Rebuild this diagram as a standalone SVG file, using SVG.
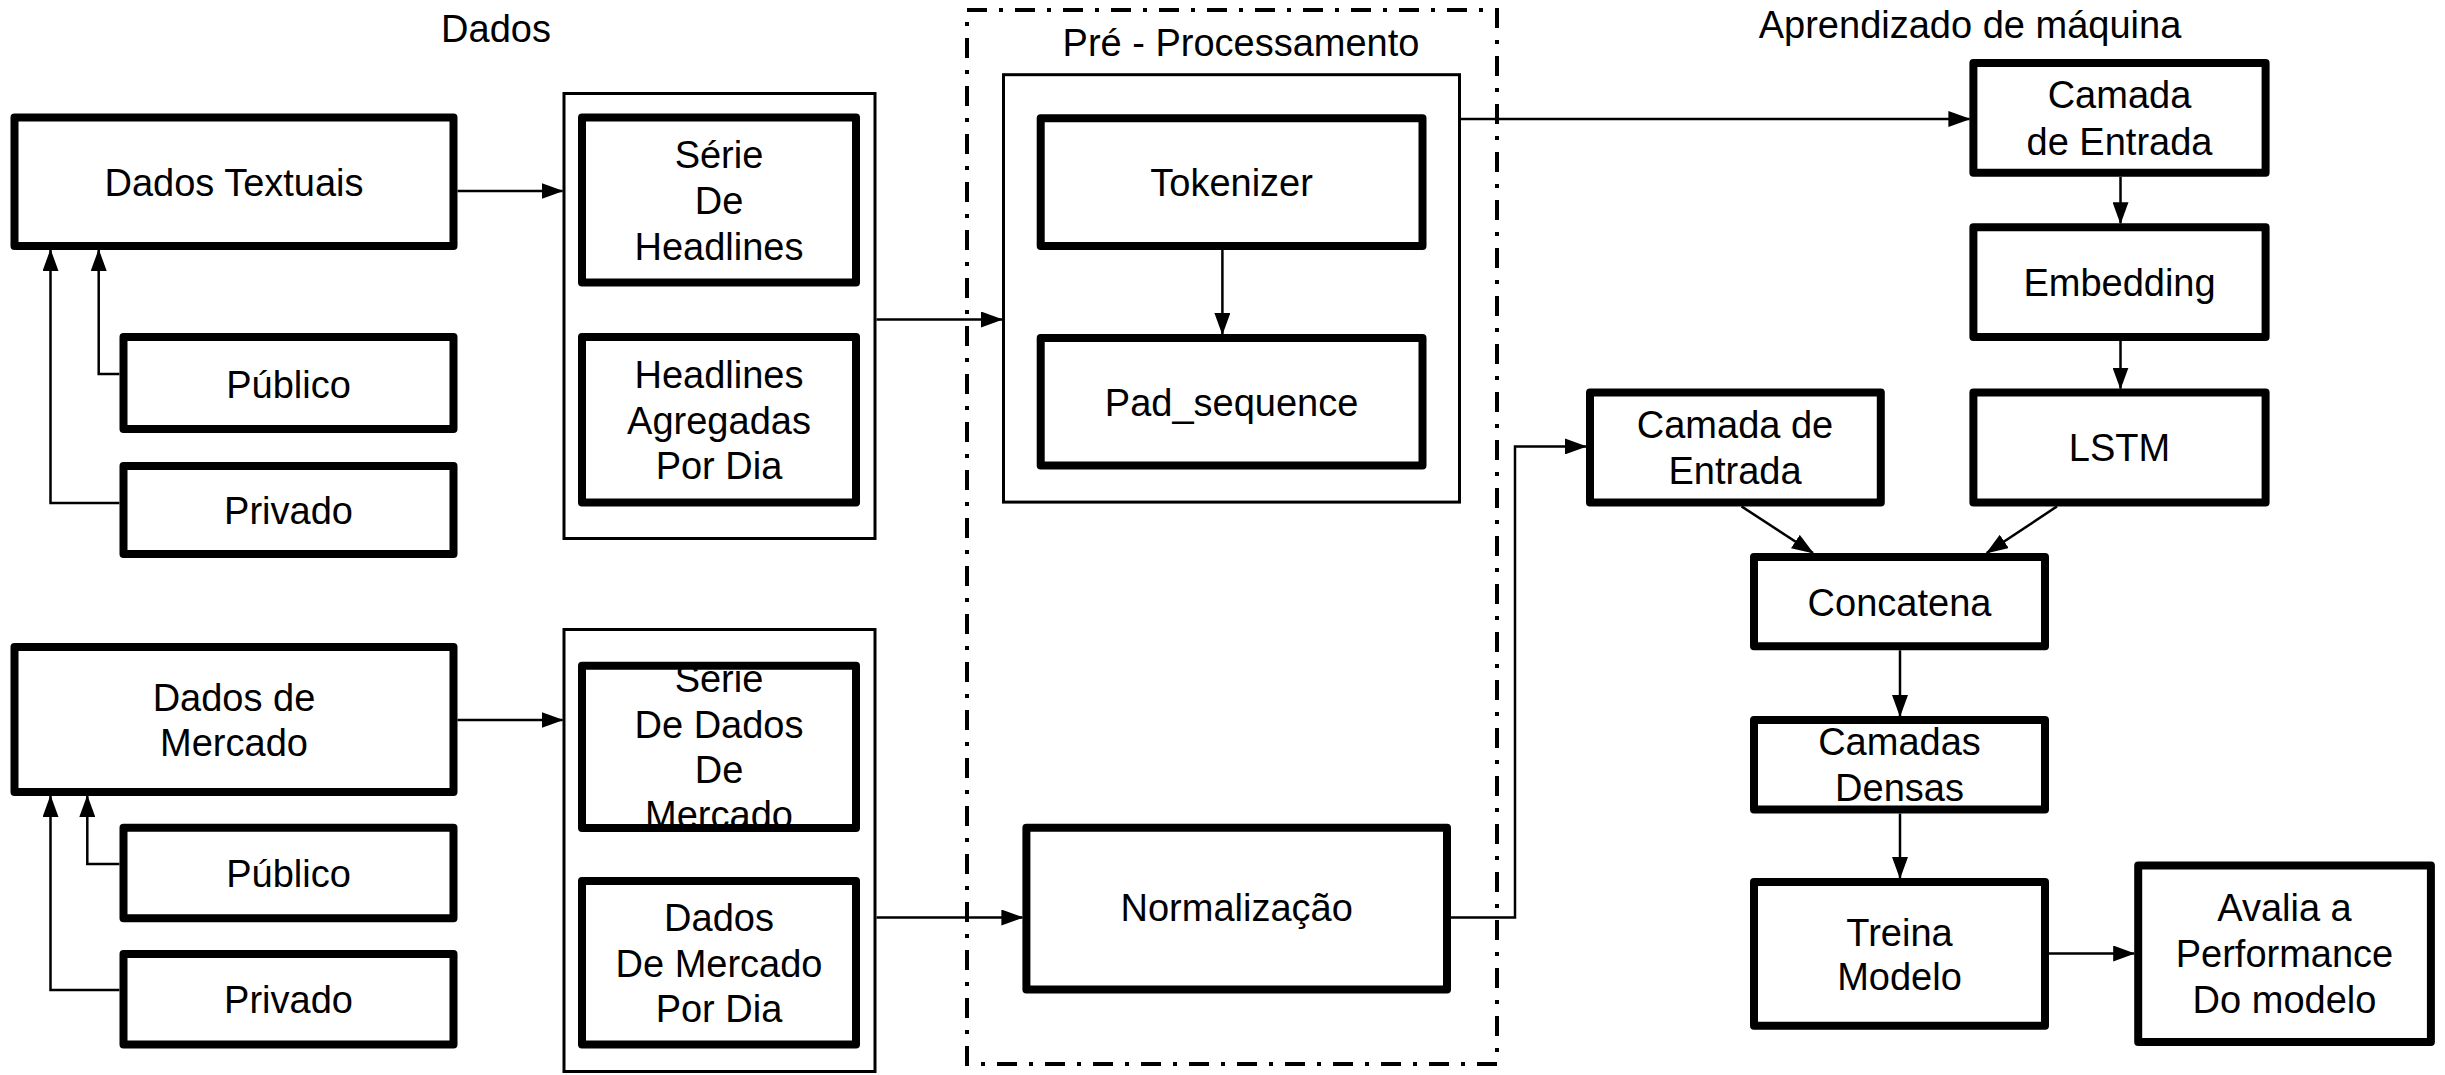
<svg xmlns="http://www.w3.org/2000/svg" width="2445" height="1075" viewBox="0 0 2445 1075">
<style>
text{font-family:"Liberation Sans",Arial,sans-serif;font-size:38px;fill:#000;text-anchor:middle}
.n{fill:#fff;stroke:#000;stroke-width:8;stroke-linejoin:round}
.nf{fill:#fff;stroke:none}
.no{fill:none;stroke:#000;stroke-width:8;stroke-linejoin:round}
.g{fill:#fff;stroke:#000;stroke-width:3}
.dash{fill:none;stroke:#000;stroke-width:4;stroke-dasharray:20 12 4 12}
.c{fill:none;stroke:#000;stroke-width:2.5;marker-end:url(#ah)}
</style>
<defs>
<marker id="ah" markerUnits="userSpaceOnUse" markerWidth="22" markerHeight="16" refX="21" refY="8" orient="auto" viewBox="0 0 22 16">
<path d="M0,0 L22,8 L0,16 z" fill="#000"/>
</marker>
</defs>
<rect width="2445" height="1075" fill="#fff"/>

<g id="titles">
<text x="496" y="42">Dados</text>
<text x="1241" y="56">Pré - Processamento</text>
<text x="1970" y="38">Aprendizado de máquina</text>
</g>

<g id="preproc-frame"><rect class="dash" x="967" y="10" width="530" height="1054"/></g>
<g id="group-text"><rect class="g" x="564" y="93.5" width="311" height="445"/></g>
<g id="group-market"><rect class="g" x="564" y="629.5" width="311" height="442"/></g>
<g id="group-pre"><rect class="g" x="1003.5" y="74.7" width="456" height="427.4"/></g>

<g id="dados-textuais"><rect class="n" x="14.5" y="117.5" width="439" height="128.5"/><text x="234" y="196">Dados Textuais</text></g>
<g id="publico1"><rect class="n" x="123.5" y="337" width="330" height="92"/><text x="288.5" y="397.5">Público</text></g>
<g id="privado1"><rect class="n" x="123.5" y="466" width="330" height="88"/><text x="288.5" y="524">Privado</text></g>
<g id="dados-mercado"><rect class="n" x="14.5" y="647" width="439" height="145"/><text x="234" y="711">Dados de</text><text x="234" y="756">Mercado</text></g>
<g id="publico2"><rect class="n" x="123.5" y="827.7" width="330" height="90.6"/><text x="288.5" y="887">Público</text></g>
<g id="privado2"><rect class="n" x="123.5" y="954" width="330" height="90.4"/><text x="288.5" y="1013">Privado</text></g>

<g id="serie-headlines"><rect class="n" x="582" y="117.6" width="274" height="164.8"/><text x="719" y="168">Série</text><text x="719" y="213.6">De</text><text x="719" y="260">Headlines</text></g>
<g id="headlines-agregadas"><rect class="n" x="582" y="337" width="274" height="165.4"/><text x="719" y="387.5">Headlines</text><text x="719" y="434">Agregadas</text><text x="719" y="478.6">Por Dia</text></g>
<g id="serie-mercado"><rect class="nf" x="582" y="665.8" width="274" height="162.2"/><text x="719" y="692">Série</text><text x="719" y="737.5">De Dados</text><text x="719" y="783">De</text><text x="719" y="828">Mercado</text><rect class="no" x="582" y="665.8" width="274" height="162.2"/></g>
<g id="dados-mercado-dia"><rect class="n" x="582" y="881" width="274" height="163.4"/><text x="719" y="931">Dados</text><text x="719" y="976.5">De Mercado</text><text x="719" y="1021.5">Por Dia</text></g>

<g id="tokenizer"><rect class="n" x="1040.7" y="118.3" width="381.8" height="127.7"/><text x="1231.6" y="196">Tokenizer</text></g>
<g id="pad-sequence"><rect class="n" x="1040.7" y="338" width="381.8" height="127.6"/><text x="1231.6" y="416">Pad_sequence</text></g>
<g id="normalizacao"><rect class="n" x="1026.4" y="827.7" width="420.6" height="161.8"/><text x="1236.7" y="921.3">Normalização</text></g>

<g id="camada-entrada-1"><rect class="n" x="1973.4" y="63" width="292.2" height="109.8"/><text x="2119.5" y="108">Camada</text><text x="2119.5" y="154.6">de Entrada</text></g>
<g id="embedding"><rect class="n" x="1973.4" y="227.2" width="292.2" height="109.8"/><text x="2119.5" y="296.4">Embedding</text></g>
<g id="lstm"><rect class="n" x="1973.4" y="392.6" width="292.2" height="109.8"/><text x="2119.5" y="461.4">LSTM</text></g>
<g id="camada-entrada-2"><rect class="n" x="1590" y="392.6" width="290.8" height="109.8"/><text x="1735" y="437.5">Camada de</text><text x="1735" y="484">Entrada</text></g>
<g id="concatena"><rect class="n" x="1754" y="557" width="291" height="89.3"/><text x="1899.5" y="615.8">Concatena</text></g>
<g id="camadas-densas"><rect class="n" x="1754" y="720" width="291" height="89.6"/><text x="1899.5" y="755.4">Camadas</text><text x="1899.5" y="801.4">Densas</text></g>
<g id="treina-modelo"><rect class="n" x="1754" y="882" width="291" height="143.7"/><text x="1899.5" y="946">Treina</text><text x="1899.5" y="990">Modelo</text></g>
<g id="avalia"><rect class="n" x="2138.2" y="865.5" width="292.7" height="176.5"/><text x="2284.5" y="921.3">Avalia a</text><text x="2284.5" y="967.3">Performance</text><text x="2284.5" y="1012.6">Do modelo</text></g>

<g id="connectors">
<path class="c" d="M457.5,191 H562.5"/>
<path class="c" d="M457.5,720 H562.5"/>
<path class="c" d="M119.4,374 H98.7 V250"/>
<path class="c" d="M119.4,503 H50.5 V250"/>
<path class="c" d="M119.4,864 H87.3 V796"/>
<path class="c" d="M119.4,990 H50.5 V796"/>
<path class="c" d="M876.5,319.5 H1002"/>
<path class="c" d="M876.5,917.5 H1022.4"/>
<path class="c" d="M1222.4,250 V334"/>
<path class="c" d="M1461,119 H1969.4"/>
<path class="c" d="M1451,917.5 H1515 V446.4 H1586"/>
<path class="c" d="M2120.5,176.8 V223.2"/>
<path class="c" d="M2120.5,341 V388.6"/>
<path class="c" d="M1741.5,506.4 L1813,553"/>
<path class="c" d="M2057,506.4 L1986.7,553"/>
<path class="c" d="M1900,650.3 V716"/>
<path class="c" d="M1900,813.6 V878"/>
<path class="c" d="M2049,953.5 H2134.2"/>
</g>
</svg>
